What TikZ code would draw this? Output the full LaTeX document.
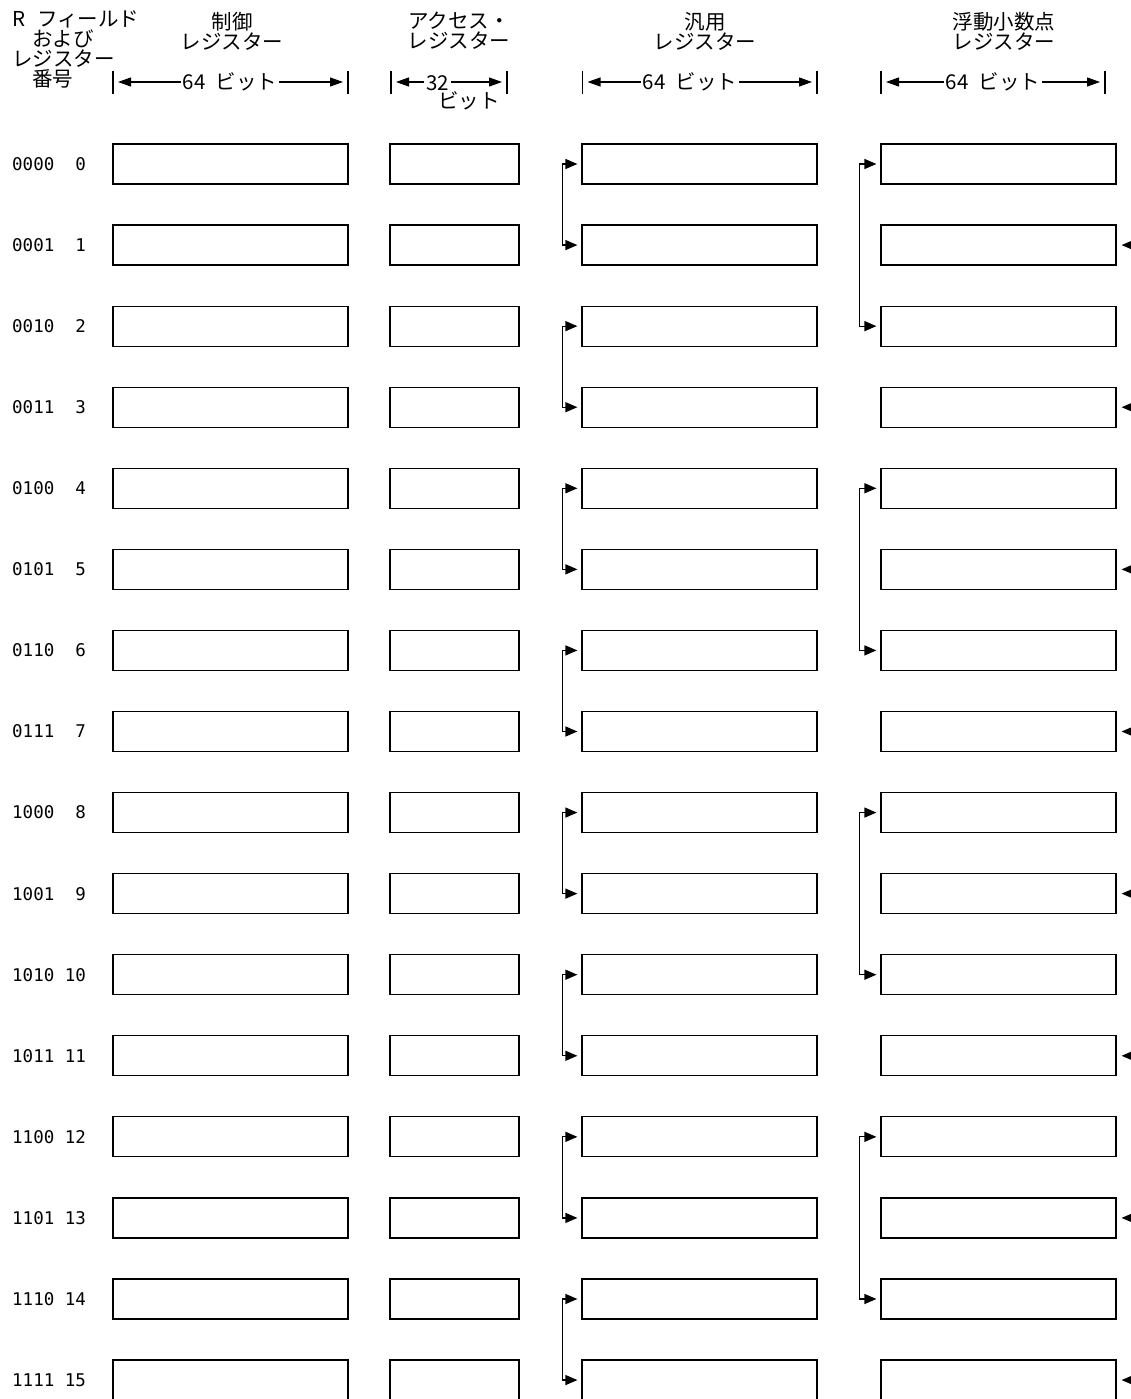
\documentclass[tikz,border=0pt]{standalone}
\usepackage{fontspec}
\newfontfamily\jfont{Noto Sans CJK JP}
\newfontfamily\monofont{DejaVu Sans Mono}
\usetikzlibrary{arrows.meta}

\begin{document}
\begin{tikzpicture}[x=1pt,y=-1pt,
  reg/.style={draw,line width=1.2pt,minimum height=40pt,inner sep=0pt},
  wide/.style={reg,minimum width=235pt},
  narrow/.style={reg,minimum width=129pt},
  jp/.style={font=\jfont\fontsize{20.5}{20}\selectfont,inner sep=0pt},
  numlab/.style={font=\monofont\fontsize{17.5}{20}\selectfont,anchor=west,inner sep=0pt},
  feed/.style={line width=1.2pt,-{Triangle[length=12pt,width=10pt]},shorten >=4pt},
  dim/.style={line width=1.2pt,-{Triangle[length=13pt,width=9pt]},shorten >=5pt},
  bar/.style={line width=1.2pt}]
\useasboundingbox (0,0) rectangle (1131,1399);
\clip (0,0) rectangle (1131,1399);

\node[jp,align=left,anchor=north west] (rhead) at (12,11)
  {R\hspace{12pt}フィールド\\\hspace*{20pt}および\\レジスター\\\hspace*{20pt}番号};
\node[jp,align=center] (ctlt) at (232,31) {制御\\レジスター};
\node[jp,align=center] (acct) at (459,31) {アクセス・\\レジスター};
\node[jp,align=center] (gprt) at (705,31) {汎用\\レジスター};
\node[jp,align=center] (fprt) at (1004,31) {浮動小数点\\レジスター};

\coordinate (ctlL) at (113,82);
\coordinate (ctlR) at (348,82);
\coordinate (accL) at (391,82);
\coordinate (accR) at (507,82);
\coordinate (gprL) at (582.5,82);
\coordinate (gprR) at (817,82);
\coordinate (fprL) at (881,82);
\coordinate (fprR) at (1105,82);
\foreach \c in {ctlL,ctlR,accL,accR,gprL,gprR,fprL,fprR}
  \draw[bar] ([yshift=11pt]\c) -- ([yshift=-12pt]\c);

\node[jp,anchor=base,inner sep=2pt] (ctlw) at (230,90) {64\hspace{10pt}ビット};
\node[jp,anchor=base,inner sep=2pt] (accw) at (437.5,91) {32};
\node[jp,anchor=base,inner sep=0pt] (accu) at (469,109) {ビット};
\node[jp,anchor=base,inner sep=2pt] (gprw) at (690,90) {64\hspace{10pt}ビット};
\node[jp,anchor=base,inner sep=2pt] (fprw) at (993,90) {64\hspace{10pt}ビット};
\draw[dim] (ctlw.west |- ctlL) -- (ctlL);
\draw[dim] (ctlw.east |- ctlR) -- (ctlR);
\draw[dim] (accw.west |- accL) -- (accL);
\draw[dim] (accw.east |- accR) -- (accR);
\draw[dim] (gprw.west |- gprL) -- (gprL);
\draw[dim] (gprw.east |- gprR) -- (gprR);
\draw[dim] (fprw.west |- fprL) -- (fprL);
\draw[dim] (fprw.east |- fprR) -- (fprR);

\foreach \bits [count=\i from 0] in {0000,0001,0010,0011,0100,0101,0110,0111,
    1000,1001,1010,1011,1100,1101,1110,1111}{
  \pgfmathsetmacro\y{164+81.07*\i}
  \node[numlab] (num\i) at (12,\y) {\bits\ \ifnum\i<10 \phantom{1}\fi\i};
  \node[wide] (ctl\i) at (230.5,\y) {};
  \node[narrow] (acc\i) at (454.5,\y) {};
  \node[wide] (gpr\i) at (699.5,\y) {};
  \node[wide] (fpr\i) at (998.5,\y) {};
}

\foreach \i in {0,2,...,14}{
  \pgfmathtruncatemacro\j{\i+1}
  \draw[feed] ([xshift=-19pt]gpr\i.west) -- (gpr\i.west);
  \draw[feed] ([xshift=-19pt]gpr\i.west) |- (gpr\j.west);
}
\foreach \i in {0,4,8,12}{
  \pgfmathtruncatemacro\j{\i+2}
  \draw[feed] ([xshift=-21pt]fpr\i.west) -- (fpr\i.west);
  \draw[feed] ([xshift=-21pt]fpr\i.west) |- (fpr\j.west);
}
\foreach \i in {1,3,...,15}{
  \coordinate (in\i) at ([xshift=40pt]fpr\i.east);
  \draw[feed,shorten >=5pt] (in\i) -- (fpr\i.east);
}
\end{tikzpicture}
\end{document}
